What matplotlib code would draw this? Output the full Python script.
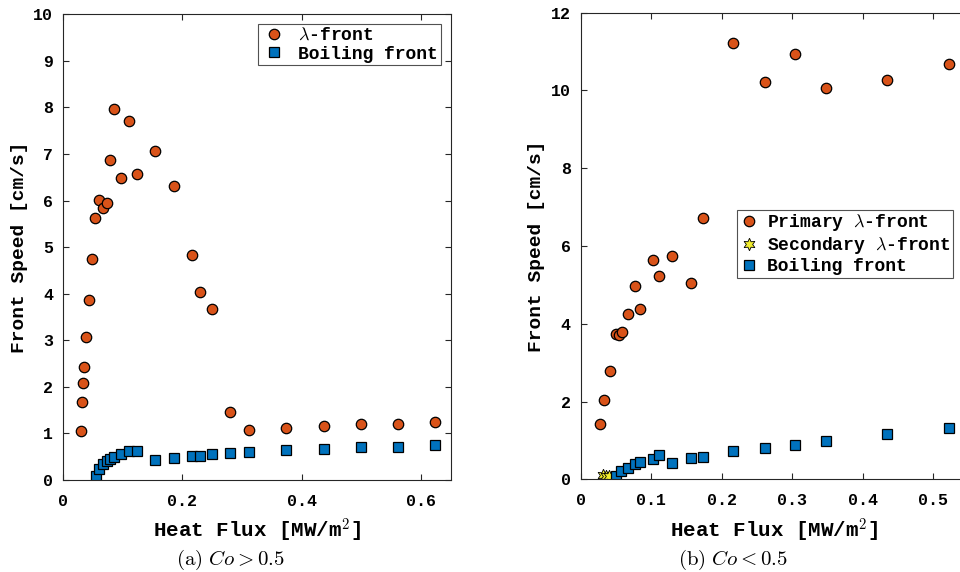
import numpy as np
import matplotlib
matplotlib.use("Agg")
import matplotlib.pyplot as plt

plt.rcParams['mathtext.fontset'] = 'cm'
plt.rcParams['font.family'] = ['Liberation Mono', 'DejaVu Sans Mono']
plt.rcParams['font.weight'] = 'bold'

# (a) Co > 0.5
a_lam_x = [0.030, 0.032, 0.033, 0.035, 0.039, 0.043, 0.048, 0.054, 0.060, 0.067,
           0.073, 0.079, 0.086, 0.098, 0.111, 0.124, 0.155, 0.186, 0.217, 0.230,
           0.249, 0.280, 0.311, 0.374, 0.437, 0.499, 0.562, 0.624]
a_lam_y = [1.05, 1.67, 2.08, 2.43, 3.06, 3.86, 4.74, 5.63, 6.01, 5.83,
           5.95, 6.87, 7.96, 6.49, 7.71, 6.57, 7.07, 6.32, 4.82, 4.04,
           3.67, 1.46, 1.07, 1.11, 1.16, 1.21, 1.21, 1.24]
a_boil_x = [0.055, 0.061, 0.067, 0.073, 0.079, 0.085, 0.098, 0.111, 0.124, 0.155,
            0.186, 0.217, 0.230, 0.249, 0.280, 0.311, 0.374, 0.437, 0.499, 0.562, 0.624]
a_boil_y = [0.09, 0.24, 0.34, 0.40, 0.45, 0.49, 0.565, 0.615, 0.62, 0.42,
            0.465, 0.51, 0.515, 0.55, 0.58, 0.60, 0.64, 0.665, 0.70, 0.715, 0.75]

# (b) Co < 0.5
b_lam_x = [0.028, 0.033, 0.042, 0.050, 0.054, 0.059, 0.068, 0.077, 0.085, 0.103,
           0.111, 0.130, 0.156, 0.173, 0.216, 0.261, 0.304, 0.348, 0.435, 0.522]
b_lam_y = [1.43, 2.04, 2.78, 3.73, 3.70, 3.80, 4.24, 4.97, 4.38, 5.65,
           5.22, 5.74, 5.05, 6.71, 11.22, 10.21, 10.94, 10.06, 10.27, 10.68]
b_sec_x = [0.032, 0.036, 0.040]
b_sec_y = [0.10, 0.09, 0.08]
b_boil_x = [0.051, 0.058, 0.068, 0.077, 0.085, 0.103, 0.111, 0.130, 0.156, 0.173,
            0.216, 0.261, 0.304, 0.348, 0.435, 0.522]
b_boil_y = [0.085, 0.21, 0.30, 0.39, 0.44, 0.51, 0.62, 0.43, 0.56, 0.57,
            0.72, 0.81, 0.89, 0.98, 1.16, 1.32]

orange = '#D95319'
blue = '#0072BD'
yellow = '#F2EE2E'
axcol = '#262626'

fig = plt.figure(figsize=(9.6, 5.72), dpi=100)
ax1 = fig.add_axes([0.0656, 0.161, 0.404, 0.814])
ax2 = fig.add_axes([0.6047, 0.162, 0.404, 0.816])

ms = 7.5
ax1.plot(a_lam_x, a_lam_y, 'o', color=orange, mec='black', mew=0.9, ms=ms,
         label=r'$\lambda$-front')
ax1.plot(a_boil_x, a_boil_y, 's', color=blue, mec='black', mew=0.9, ms=ms,
         label='Boiling front')

ax2.plot(b_lam_x, b_lam_y, 'o', color=orange, mec='black', mew=0.9, ms=ms,
         label=r'Primary $\lambda$-front')
ax2.plot(b_sec_x, b_sec_y, marker=(6, 1, 0), ls='none', color=yellow, mec='black',
         mew=0.6, ms=9, label=r'Secondary $\lambda$-front')
ax2.plot(b_boil_x, b_boil_y, 's', color=blue, mec='black', mew=0.9, ms=ms,
         label='Boiling front')

ax1.set_xlim(0, 0.65)
ax1.set_ylim(0, 10)
ax1.set_xticks([0, 0.2, 0.4, 0.6])
ax1.set_xticklabels(['0', '0.2', '0.4', '0.6'])
ax1.set_yticks(range(0, 11))

ax2.set_xlim(0, 0.55)
ax2.set_ylim(0, 12)
ax2.set_xticks([0, 0.1, 0.2, 0.3, 0.4, 0.5])
ax2.set_xticklabels(['0', '0.1', '0.2', '0.3', '0.4', '0.5'])
ax2.set_yticks(range(0, 13, 2))

for ax in (ax1, ax2):
    ax.tick_params(direction='in', top=True, right=True, length=4, width=0.8,
                   labelsize=12, colors=axcol, labelcolor='black')
    ax.tick_params(axis='x', pad=10)
    ax.tick_params(axis='y', pad=7)
    for s in ax.spines.values():
        s.set_color(axcol)
        s.set_linewidth(0.8)
    ax.set_xlabel(r'Heat Flux [MW/m$^{\mathtt{2}}$]', fontsize=15, fontweight='bold',
                  labelpad=6)
    ax.set_ylabel('Front Speed [cm/s]', fontsize=14, fontweight='bold', labelpad=4)

leg1 = ax1.legend(loc='upper right', fontsize=13, frameon=True, fancybox=False,
                  borderaxespad=0.55, handletextpad=0.6, borderpad=0.15,
                  labelspacing=0.1, handlelength=1.5)
leg2 = ax2.legend(loc='upper left', bbox_to_anchor=(0.403, 0.578), fontsize=13,
                  frameon=True, fancybox=False, handletextpad=0.5, borderpad=0.15,
                  labelspacing=0.1, handlelength=1.0, borderaxespad=0)
for lg in (leg1, leg2):
    lg.get_frame().set_edgecolor(axcol)
    lg.get_frame().set_linewidth(0.8)

fig.text(0.2396, 0.012, r'$\mathrm{(a)}\ Co > 0.5$', ha='center', va='baseline',
         fontsize=15)
fig.text(0.7635, 0.012, r'$\mathrm{(b)}\ Co < 0.5$', ha='center', va='baseline',
         fontsize=15)

fig.savefig('out.png', dpi=100)
